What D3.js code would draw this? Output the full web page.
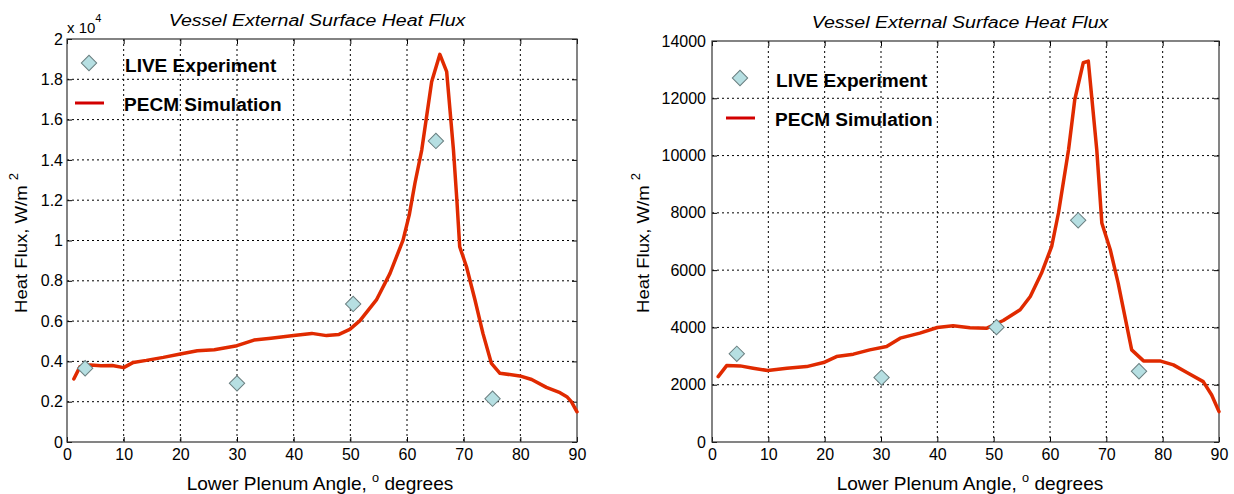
<!DOCTYPE html>
<html>
<head>
<meta charset="utf-8">
<script src="https://cdn.jsdelivr.net/npm/d3@7"></script>
<style>
  body { margin: 0; background: #fff; }
  svg { display: block; }
  text { font-family: "Liberation Sans", Arial, sans-serif; fill: #000; }
</style>
</head>
<body>
<div id="dchart"></div>
<script>
// tick values
const xTicks = [0, 10, 20, 30, 40, 50, 60, 70, 80, 90];
const leftYTicks = [0, 2000, 4000, 6000, 8000, 10000, 12000, 14000, 16000, 18000, 20000];
const rightYTicks = [0, 2000, 4000, 6000, 8000, 10000, 12000, 14000];

// left panel (W/m2, axis shown x 10^4)
const leftLiveAngle = [3.2, 30.0, 50.5, 65.1, 75.1];
const leftLiveFlux = [3660, 2910, 6850, 14940, 2150];
const leftPecmAngle = [1.2, 2.3, 4.1, 6, 8, 10, 11.7, 14, 17, 20, 23, 26, 30, 33, 36, 40, 43.2, 45.8, 48, 49.9,
  51.7, 54.6, 57.0, 59.3, 60.4, 61.4, 62.6, 64.35, 65.8, 67.0, 68.2, 68.8, 69.3, 70.5, 72.0, 73.4, 74.9, 76.4,
  79.9, 82, 84.6, 87, 88.2, 89, 90];
const leftPecmFlux = [3130, 3740, 3820, 3780, 3800, 3690, 3950, 4050, 4200, 4370, 4530, 4580, 4780, 5060, 5150, 5280, 5390, 5280, 5340, 5590,
  6020, 7050, 8370, 10020, 11270, 12840, 14490, 17880, 19240, 18380, 14490, 12010, 9690, 8700, 7050, 5390, 3900, 3410,
  3280, 3100, 2710, 2450, 2250, 2000, 1500];

// right panel (W/m2)
const rightLiveAngle = [4.4, 30.1, 50.5, 65.0, 75.8];
const rightLiveFlux = [3080, 2250, 4010, 7740, 2470];
const rightPecmAngle = [1.1, 2.6, 5.0, 7.3, 9.9, 13.3, 16.8, 19.8, 22.1, 25.1, 28.0, 31.0, 33.4, 36.9, 40.0, 42.8, 45.8, 48.8,
  51.7, 54.7, 56.5, 58.5, 60.3, 61.5, 63.3, 64.4, 65.9, 66.8, 68.3, 69.2, 70.7, 72.1, 72.7, 74.5, 76.6, 79.5, 81.9,
  84.3, 87.2, 88.7, 90];
const rightPecmFlux = [2283, 2668, 2657, 2577, 2493, 2577, 2633, 2773, 2983, 3066, 3217, 3333, 3625, 3800, 3997, 4056, 3990, 3975,
  4241, 4615, 5080, 5900, 6829, 7996, 10210, 11958, 13240, 13297, 10210, 7647, 6713, 5549, 4965, 3217, 2832, 2832, 2692,
  2424, 2108, 1643, 1059];

const W = 1234, H = 494;
const svg = d3.select("#dchart").append("svg").attr("width", W).attr("height", H);
svg.append("rect").attr("width", W).attr("height", H).attr("fill", "#fff");

const lineColor = "#e02a00";
const legendLineColor = "#d20000";
const markerFill = "#b6dfe2";
const markerStroke = "#6a7f80";

// text placed through a group so it can be stretched a bit, like the exported figure
function label(parent, x, y, opts) {
  const g = parent.append("g")
    .attr("transform", `translate(${x},${y}) rotate(${opts.rotate || 0}) scale(${opts.sx || 1},1)`);
  return g.append("text")
    .attr("text-anchor", opts.anchor || "start")
    .style("font-size", opts.size + "px")
    .style("font-weight", opts.weight || "normal")
    .style("font-style", opts.style || "normal");
}

function drawPanel(cfg) {
  const x = d3.scaleLinear().domain([0, 90]).range([cfg.left, cfg.right]);
  const y = d3.scaleLinear().domain([0, cfg.yMax]).range([cfg.bottom, cfg.top]);
  const g = svg.append("g");

  // grid
  g.append("g").selectAll("line").data(xTicks.slice(1, -1)).join("line")
    .attr("x1", d => x(d)).attr("x2", d => x(d))
    .attr("y1", cfg.top).attr("y2", cfg.bottom)
    .attr("stroke", "#000").attr("stroke-dasharray", "2,3").attr("stroke-width", 1);
  g.append("g").selectAll("line").data(cfg.yTicks.slice(1, -1)).join("line")
    .attr("x1", cfg.left).attr("x2", cfg.right)
    .attr("y1", d => y(d)).attr("y2", d => y(d))
    .attr("stroke", "#000").attr("stroke-dasharray", "2,3").attr("stroke-width", 1);

  // axes with inside ticks
  const xa = g.append("g").attr("transform", `translate(0,${cfg.bottom})`)
    .call(d3.axisBottom(x).tickValues(xTicks).tickSizeInner(-5).tickSizeOuter(0).tickPadding(7));
  g.append("g").attr("transform", `translate(0,${cfg.top})`)
    .call(d3.axisTop(x).tickValues(xTicks).tickSizeInner(-5).tickSizeOuter(0).tickFormat(""));
  const ya = g.append("g").attr("transform", `translate(${cfg.left},0)`)
    .call(d3.axisLeft(y).tickValues(cfg.yTicks).tickSizeInner(-5).tickSizeOuter(0)
      .tickPadding(cfg.yPad).tickFormat(cfg.yFormat));
  g.append("g").attr("transform", `translate(${cfg.right},0)`)
    .call(d3.axisRight(y).tickValues(cfg.yTicks).tickSizeInner(-5).tickSizeOuter(0).tickFormat(""));
  g.selectAll(".domain").remove();
  g.selectAll(".tick line").attr("stroke", "#000");
  [xa, ya].forEach(a => a.selectAll("text")
    .style("font-family", '"Liberation Sans", Arial, sans-serif').style("font-size", "16px").attr("fill", "#000"));

  g.append("rect")
    .attr("x", cfg.left).attr("y", cfg.top)
    .attr("width", cfg.right - cfg.left).attr("height", cfg.bottom - cfg.top)
    .attr("fill", "none").attr("stroke", "#333").attr("stroke-width", 1.2);

  // PECM line
  const line = d3.line().x(d => x(d[0])).y(d => y(d[1]));
  g.append("path").datum(d3.zip(cfg.pecmAngle, cfg.pecmFlux))
    .attr("d", line).attr("fill", "none")
    .attr("stroke", lineColor).attr("stroke-width", 3.5)
    .attr("stroke-linejoin", "round").attr("stroke-linecap", "round");

  // LIVE markers
  const diamond = d3.symbol(d3.symbolSquare, 118);
  g.append("g").selectAll("path").data(d3.zip(cfg.liveAngle, cfg.liveFlux)).join("path")
    .attr("d", diamond)
    .attr("transform", d => `translate(${x(d[0])},${y(d[1])}) rotate(45)`)
    .attr("fill", markerFill).attr("stroke", markerStroke).attr("stroke-width", 1);

  // title
  label(g, cfg.titleX, cfg.titleY, { size: 17, style: "italic", anchor: "middle", sx: 1.15 })
    .text("Vessel External Surface Heat Flux");

  // x label
  const xl = label(g, cfg.xLabelX, 490, { size: 18, anchor: "middle", sx: 1.06 });
  xl.append("tspan").text("Lower Plenum Angle, ");
  xl.append("tspan").attr("dy", -8).style("font-size", "12px").text("o");
  xl.append("tspan").attr("dy", 8).text(" degrees");

  // y label
  const yl = label(g, cfg.yLabelX, 243, { size: 17, anchor: "middle", rotate: -90, sx: 1.09 });
  yl.append("tspan").text("Heat Flux, W/m ");
  yl.append("tspan").attr("dy", -9).style("font-size", "12px").text("2");

  // legend
  const lg = g.append("g");
  lg.append("path").attr("d", diamond)
    .attr("transform", `translate(${cfg.legX},${cfg.legY}) rotate(45)`)
    .attr("fill", markerFill).attr("stroke", markerStroke);
  label(lg, cfg.legTextX, cfg.legY + 9, { size: 18.5, weight: "bold", sx: 1.03 }).text("LIVE Experiment");
  lg.append("line")
    .attr("x1", cfg.legX - 14).attr("x2", cfg.legX + 15)
    .attr("y1", cfg.legY + 40).attr("y2", cfg.legY + 40)
    .attr("stroke", legendLineColor).attr("stroke-width", 3);
  label(lg, cfg.legTextX - 1, cfg.legY + 48, { size: 18.5, weight: "bold", sx: 1.03 }).text("PECM Simulation");

  return g;
}

const leftPanel = drawPanel({
  left: 67, right: 577, top: 39, bottom: 442,
  yMax: 20000, yTicks: leftYTicks, yPad: 4,
  yFormat: d => d === 0 ? "0" : d3.format("~g")(d / 10000),
  liveAngle: leftLiveAngle, liveFlux: leftLiveFlux,
  pecmAngle: leftPecmAngle, pecmFlux: leftPecmFlux,
  titleX: 317, titleY: 26, xLabelX: 320, yLabelX: 27,
  legX: 89, legY: 63, legTextX: 125
});

// exponent label above left axis
const ex = label(leftPanel, 67, 33, { size: 15 });
ex.append("tspan").text("x 10");
ex.append("tspan").attr("dy", -11).style("font-size", "11px").text("4");

drawPanel({
  left: 712, right: 1219, top: 41, bottom: 442,
  yMax: 14000, yTicks: rightYTicks, yPad: 6,
  yFormat: d => String(d),
  liveAngle: rightLiveAngle, liveFlux: rightLiveFlux,
  pecmAngle: rightPecmAngle, pecmFlux: rightPecmFlux,
  titleX: 960, titleY: 28, xLabelX: 970, yLabelX: 649,
  legX: 740, legY: 78, legTextX: 776
});
</script>
</body>
</html>
